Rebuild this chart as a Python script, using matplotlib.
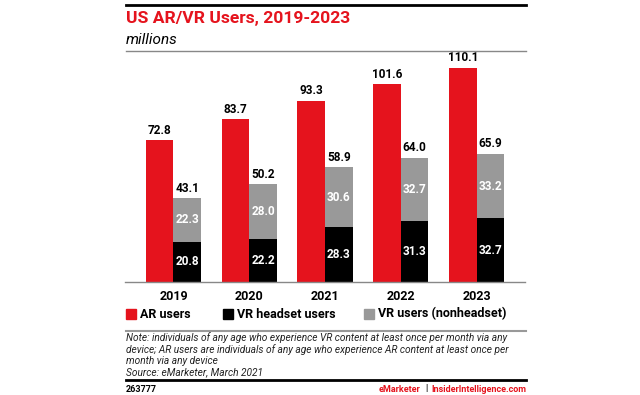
import numpy as np
import matplotlib
matplotlib.use("Agg")
from matplotlib import pyplot as plt
from matplotlib.lines import Line2D
from matplotlib.patches import Rectangle

years = ["2019", "2020", "2021", "2022", "2023"]
ar_users = [72.8, 83.7, 93.3, 101.6, 110.1]
vr_headset = [20.8, 22.2, 28.3, 31.3, 32.7]
vr_nonheadset = [22.3, 28.0, 30.6, 32.7, 33.2]
vr_total = [43.1, 50.2, 58.9, 64.0, 65.9]

RED = "#E5131D"
GRAY = "#999999"
plt.rcParams['font.family'] = ['Roboto', 'DejaVu Sans']

W, H = 640, 395
fig = plt.figure(figsize=(W / 100, H / 100), dpi=100)

def fx(px):
    return px / W

def fy(py):
    return 1 - py / H

ax = fig.add_axes([fx(125), fy(282), fx(400), (282 - 55) / H])
x = np.arange(len(years))
bw = 0.365
ax.bar(x - bw / 2, ar_users, bw, color=RED)
ax.bar(x + bw / 2, vr_headset, bw, color="black")
ax.bar(x + bw / 2, vr_nonheadset, bw, bottom=vr_headset, color=GRAY)
ax.set_xlim(-0.64, 4.64)
ax.set_ylim(0, 227 / 1.944)
for s in ["top", "right", "left"]:
    ax.spines[s].set_visible(False)
ax.spines["bottom"].set_color("#888888")
ax.spines["bottom"].set_linewidth(1.0)
ax.set_yticks([])
ax.set_xticks(x)
ax.set_xticklabels(years, fontsize=9, fontweight="bold")
ax.tick_params(axis="x", length=0, pad=6)

for i in range(len(years)):
    ax.text(x[i] - bw / 2, ar_users[i] + 1.8, f"{ar_users[i]:.1f}", ha="center", va="bottom",
            fontsize=8.5, fontweight="bold")
    ax.text(x[i] + bw / 2, vr_total[i] + 1.8, f"{vr_total[i]:.1f}", ha="center", va="bottom",
            fontsize=8.5, fontweight="bold")
    ax.text(x[i] + bw / 2, vr_headset[i] / 2, f"{vr_headset[i]:.1f}", ha="center", va="center",
            fontsize=8.5, fontweight="bold", color="white")
    ax.text(x[i] + bw / 2, vr_headset[i] + vr_nonheadset[i] / 2, f"{vr_nonheadset[i]:.1f}",
            ha="center", va="center", fontsize=8.5, fontweight="bold", color="white")

# header
fig.add_artist(Line2D([fx(126), fx(526)], [fy(5), fy(5)], color="black", lw=2))
fig.text(fx(126), fy(18), "US AR/VR Users, 2019-2023", color=RED, fontsize=12.6,
         fontweight="bold", va="center")
fig.text(fx(126), fy(40), "millions", fontsize=11, style="italic", va="center")
fig.add_artist(Line2D([fx(126), fx(526)], [fy(51), fy(51)], color="#888888", lw=1))

# legend
legend_items = [("AR users", RED, 126), ("VR headset users", "black", 223), ("VR users (nonheadset)", GRAY, 364)]
for label, col, px in legend_items:
    fig.add_artist(Rectangle((fx(px), fy(319)), fx(10), 10 / H, color=col))
    fig.text(fx(px + 14), fy(314), label, fontsize=9, fontweight="bold", va="center")

# notes
fig.add_artist(Line2D([fx(126), fx(526)], [fy(331), fy(331)], color="#999999", lw=1.5))
note_lines = ["Note: individuals of any age who experience VR content at least once per month via any",
              "device; AR users are individuals of any age who experience AR content at least once per",
              "month via any device",
              "Source: eMarketer, March 2021"]
for k, line in enumerate(note_lines):
    fig.text(fx(126), fy(338 + 11.3 * k), line, fontsize=7.3, style="italic", va="center",
             color="#222222")
fig.add_artist(Line2D([fx(126), fx(526)], [fy(380), fy(380)], color="black", lw=2))
fig.text(fx(126), fy(389), "263777", fontsize=6.5, fontweight="bold", va="center")
t = fig.text(fx(526), fy(389), "InsiderIntelligence.com", fontsize=6.5, fontweight="bold",
             va="center", ha="right", color=RED)
fig.canvas.draw()
bb = t.get_window_extent()
t2 = fig.text(bb.x0 / W - fx(4), fy(389), "|", fontsize=6.5, fontweight="bold", va="center",
              ha="right")
fig.canvas.draw()
bb2 = t2.get_window_extent()
fig.text(bb2.x0 / W - fx(4), fy(389), "eMarketer", fontsize=6.5, fontweight="bold", va="center",
         ha="right", color=RED)

fig.savefig("out.png", dpi=100)
